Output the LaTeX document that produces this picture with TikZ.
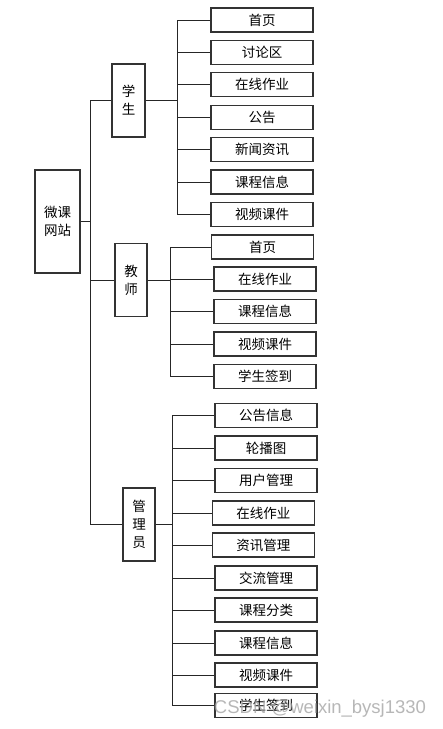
\documentclass[tikz,border=0pt]{standalone}
\usepackage{fontspec}
\newfontfamily\cjk{Noto Sans CJK SC}
\newfontfamily\wmfont{Liberation Sans}
\usetikzlibrary{positioning}

\begin{document}
\begin{tikzpicture}[x=1pt,y=-1pt,font=\cjk\fontsize{13.5}{18}\selectfont,
 item/.style={draw=black!80,line width=1.1pt,minimum width=102pt,minimum height=24pt,inner sep=0pt},
 role/.style={draw=black!80,line width=1.1pt,minimum width=32pt,minimum height=73pt,inner sep=0pt,align=center},
 link/.style={draw=black!85,line width=1pt}]
 \useasboundingbox (0,0) rectangle (443,729);
 \node[role,minimum width=45pt,minimum height=103pt] (site) at (57.5,221.5) {微课\\网站};
 \node[role,minimum width=33pt] (stu) at (128.5,100.5) {学\\生};
 \node[role] (tea) at (131,280) {教\\师};
 \node[role] (adm) at (139,524.5) {管\\理\\员};
 % student items
 \foreach \t [count=\i] in {首页,讨论区,在线作业,公告,新闻资讯,课程信息,视频课件}
  \node[item] (s\i) at (262,{20+32.4*(\i-1)}) {\t};
 % teacher items
 \foreach \t/\x/\y [count=\i] in {首页/262.5/247,在线作业/265/279,课程信息/265/311.3,视频课件/265/344,学生签到/265/376.3}
  \node[item] (t\i) at (\x,\y) {\t};
 % admin items
 \foreach \t/\x/\y [count=\i] in {公告信息/266/415.7,轮播图/266/448,用户管理/266/480.3,在线作业/263.3/513,资讯管理/263.3/545,交流管理/266/578,课程分类/266/610,课程信息/266/643,视频课件/266/675,学生签到/266/705.3}
  \node[item] (a\i) at (\x,\y) {\t};
 % connectors
 \coordinate (trunk) at (90,221.5);
 \draw[link] (site.east) -- (trunk);
 \foreach \r in {stu,tea,adm} \draw[link] (trunk) |- (\r.west);
 \coordinate (sbus) at (177,100.5);
 \draw[link] (stu.east) -- (sbus);
 \foreach \i in {1,...,7} \draw[link] (sbus) |- (s\i.west);
 \coordinate (tbus) at (170.5,280);
 \draw[link] (tea.east) -- (tbus);
 \foreach \i in {1,...,5} \draw[link] (tbus) |- (t\i.west);
 \coordinate (abus) at (172,524.5);
 \draw[link] (adm.east) -- (abus);
 \foreach \i in {1,...,10} \draw[link] (abus) |- (a\i.west);
 \node[font=\wmfont\fontsize{18.5}{20}\selectfont,text=gray!75,opacity=0.75] (wm) at (320,709) {CSDN @weixin\_bysj1330};
\end{tikzpicture}
\end{document}
